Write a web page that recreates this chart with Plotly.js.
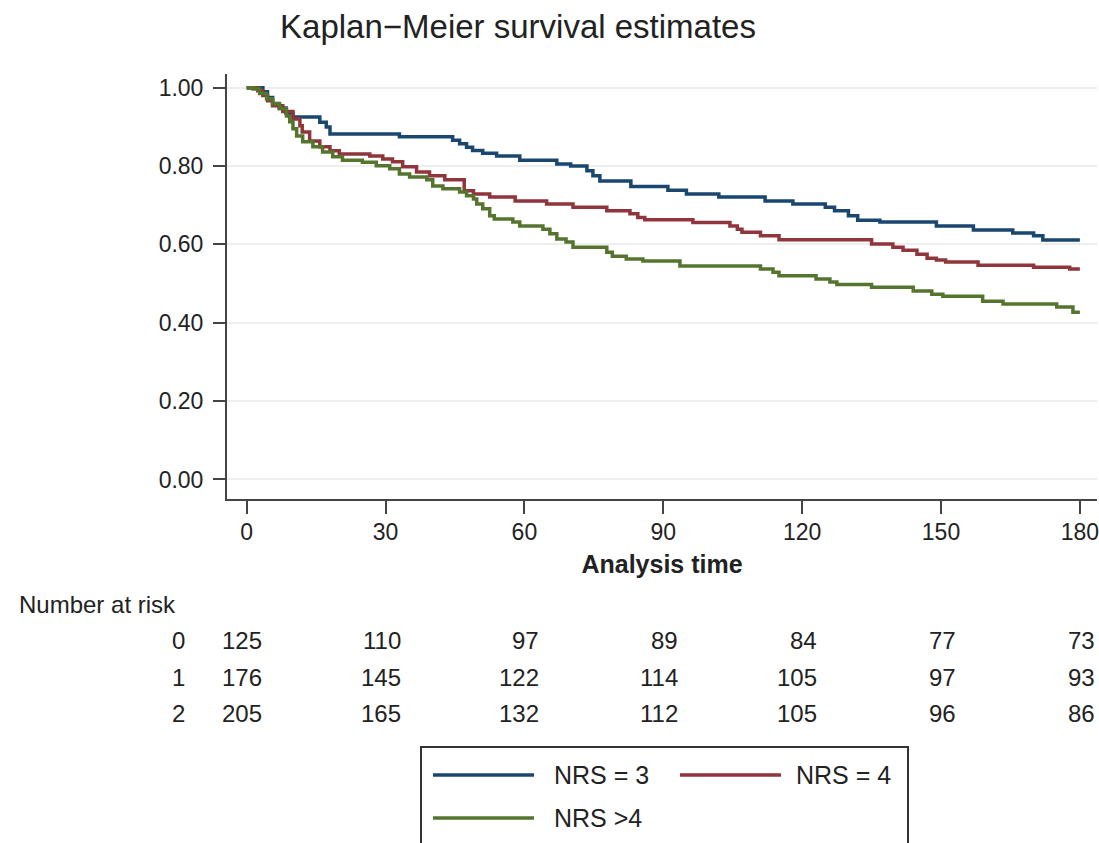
<!DOCTYPE html>
<html>
<head>
<meta charset="utf-8">
<script src="https://cdn.plot.ly/plotly-3.0.1.min.js"></script>
<style>html,body{margin:0;padding:0;background:#fff;}#chart{width:1099px;height:843px;}</style>
</head>
<body>
<div id="chart"></div>
<script>
// ---- Data ----
const seriesNames = ["NRS = 3", "NRS = 4", "NRS >4"];

const timeNRS3 = [0,3.5,4.5,5.6,7,8.5,10,15.8,17.2,18,33,44.5,46,47.5,48.8,51,54,59,67,70,73.5,74.8,76.3,83,91,95,102,112,118,125,127,130,132,136.8,149,157,165.5,170,172,180];
const survNRS3 = [1.0,0.99,0.975,0.96,0.948,0.935,0.925,0.912,0.9,0.882,0.875,0.866,0.857,0.848,0.84,0.833,0.826,0.815,0.805,0.8,0.788,0.775,0.762,0.748,0.738,0.729,0.721,0.711,0.703,0.695,0.686,0.673,0.662,0.657,0.647,0.637,0.629,0.622,0.611,0.611];

const timeNRS4 = [0,2.4,3.5,4.5,5.6,7.8,10,11.5,12,13.6,15.8,18,20,26.6,29.4,31.5,33.7,36.7,39.5,42.8,47,49,52.5,58,64.8,70.5,77.8,82.8,84.5,86,96.4,104.4,106,107,111,115,135,139.6,141.8,144.8,147,149,151,158,170,177.8,180];
const survNRS4 = [1.0,0.992,0.98,0.967,0.954,0.939,0.92,0.903,0.887,0.864,0.849,0.839,0.831,0.826,0.818,0.811,0.798,0.785,0.775,0.765,0.737,0.729,0.721,0.711,0.703,0.695,0.686,0.678,0.669,0.663,0.656,0.647,0.639,0.631,0.622,0.612,0.601,0.593,0.585,0.575,0.565,0.56,0.555,0.547,0.542,0.537,0.537];

const timeNRSgt4 = [0,1.4,2.8,4.3,5.6,7.1,8.6,9.3,10,10.8,12.1,14.3,16.4,18.6,20.7,25,28,30.9,33,35.2,38.9,40.2,42.4,46,47.5,49,49.7,51,52.5,53.5,57.5,59,64,65.5,67,69,70.5,77.8,79,82,85.6,93.6,111,113.7,115,123,126,127.5,135,144,148,150.4,159,163.4,175,178.5,180];
const survNRSgt4 = [1.0,0.997,0.985,0.972,0.959,0.946,0.928,0.913,0.895,0.877,0.862,0.849,0.836,0.824,0.815,0.81,0.801,0.793,0.78,0.772,0.765,0.749,0.742,0.734,0.724,0.716,0.703,0.691,0.673,0.665,0.657,0.647,0.639,0.627,0.614,0.606,0.593,0.58,0.57,0.563,0.558,0.545,0.537,0.529,0.52,0.512,0.504,0.498,0.491,0.481,0.473,0.468,0.455,0.448,0.44,0.427,0.427];

const xTickVals = [0,30,60,90,120,150,180];
const yTickVals = [0,0.2,0.4,0.6,0.8,1.0];

const riskTimes = [0,30,60,90,120,150,180];
const riskGroupLabels = ["0","1","2"];
const riskNRS3 = [125,110,97,89,84,77,73];
const riskNRS4 = [176,145,122,114,105,97,93];
const riskNRSgt4 = [205,165,132,112,105,96,86];

// ---- Styling ----
const colors = ["#1a476f", "#90353b", "#55752f"];
const FONT = "Liberation Sans, Arial, Helvetica, sans-serif";
const TXT = "#222222";

// plot area in pixels
const L = 227, R = 1097, T = 74, B = 499;
const px2paperY = p => (B - p) / (B - T);
const px2paperX = p => (p - L) / (R - L);

const traces = [
  {x: timeNRS3, y: survNRS3},
  {x: timeNRS4, y: survNRS4},
  {x: timeNRSgt4, y: survNRSgt4}
].map((d, i) => ({
  type: "scatter", mode: "lines", x: d.x, y: d.y, name: seriesNames[i],
  line: {color: colors[i], width: 3.5, shape: "hv"}, hoverinfo: "x+y+name"
}));

const annotations = [];
annotations.push({
  text: "Number at risk", xref: "paper", yref: "paper",
  x: px2paperX(17), y: px2paperY(604), xanchor: "left", yanchor: "middle",
  showarrow: false, font: {family: FONT, size: 24, color: TXT}
});
const riskRows = [riskNRS3, riskNRS4, riskNRSgt4];
const rowY = [640, 677, 713];
riskRows.forEach((row, r) => {
  annotations.push({
    text: riskGroupLabels[r], xref: "paper", yref: "paper",
    x: px2paperX(187), y: px2paperY(rowY[r]), xanchor: "right", yanchor: "middle",
    showarrow: false, font: {family: FONT, size: 24, color: TXT}
  });
  row.forEach((v, k) => {
    annotations.push({
      text: String(v), xref: "x", yref: "paper",
      x: riskTimes[k], xshift: 17, y: px2paperY(rowY[r]), xanchor: "right", yanchor: "middle",
      showarrow: false, font: {family: FONT, size: 24, color: TXT}
    });
  });
});

// custom legend (box, sample lines, labels)
const shapes = [];
shapes.push({type: "rect", xref: "paper", yref: "paper",
  x0: px2paperX(421), x1: px2paperX(908), y0: px2paperY(747), y1: px2paperY(860),
  line: {color: "#333333", width: 2}, fillcolor: "rgba(0,0,0,0)", layer: "above"});
const legItems = [
  {lx: 433, ly: 775, tx: 552},
  {lx: 680, ly: 775, tx: 794},
  {lx: 433, ly: 818, tx: 552}
];
legItems.forEach((it, i) => {
  shapes.push({type: "line", xref: "paper", yref: "paper",
    x0: px2paperX(it.lx), x1: px2paperX(it.lx + 101), y0: px2paperY(it.ly), y1: px2paperY(it.ly),
    line: {color: colors[i], width: 3.5}});
  annotations.push({text: seriesNames[i], xref: "paper", yref: "paper",
    x: px2paperX(it.tx), y: px2paperY(it.ly), xanchor: "left", yanchor: "middle",
    showarrow: false, font: {family: FONT, size: 25, color: TXT}});
});

const layout = {
  width: 1099, height: 843,
  margin: {l: L, r: 1099 - R, t: T, b: 843 - B, pad: 0},
  paper_bgcolor: "#ffffff", plot_bgcolor: "#ffffff",
  showlegend: false,
  font: {family: FONT, size: 22, color: TXT},
  title: {text: "Kaplan\u2212Meier survival estimates", x: 518 / 1099, xref: "container", xanchor: "center",
          y: 1 - 26 / 843, yref: "container", yanchor: "middle",
          font: {family: FONT, size: 33, color: TXT}},
  xaxis: {
    range: [-4.25, 183.7], tickvals: xTickVals, ticktext: xTickVals.map(String),
    ticks: "outside", ticklen: 13, tickwidth: 2, tickcolor: "#444444",
    showline: true, linecolor: "#444444", linewidth: 2, zeroline: false, showgrid: false,
    tickfont: {family: FONT, size: 23, color: TXT}, ticklabelstandoff: -2,
    ticklabeloverflow: "allow",
    title: {text: "<b>Analysis time</b>", font: {family: FONT, size: 25, color: TXT}, standoff: 12},
    automargin: false, fixedrange: true
  },
  yaxis: {
    range: [-0.0498, 1.035], tickvals: yTickVals, ticktext: yTickVals.map(v => v.toFixed(2)),
    ticks: "outside", ticklen: 12, tickwidth: 2, tickcolor: "#444444",
    showline: true, linecolor: "#444444", linewidth: 2, zeroline: false,
    showgrid: true, gridcolor: "#eeeeee", gridwidth: 2,
    tickfont: {family: FONT, size: 23, color: TXT}, ticklabelstandoff: 5,
    automargin: false, fixedrange: true
  },
  annotations: annotations,
  shapes: shapes
};

Plotly.newPlot("chart", traces, layout, {displayModeBar: false, staticPlot: true});
</script>
</body>
</html>
